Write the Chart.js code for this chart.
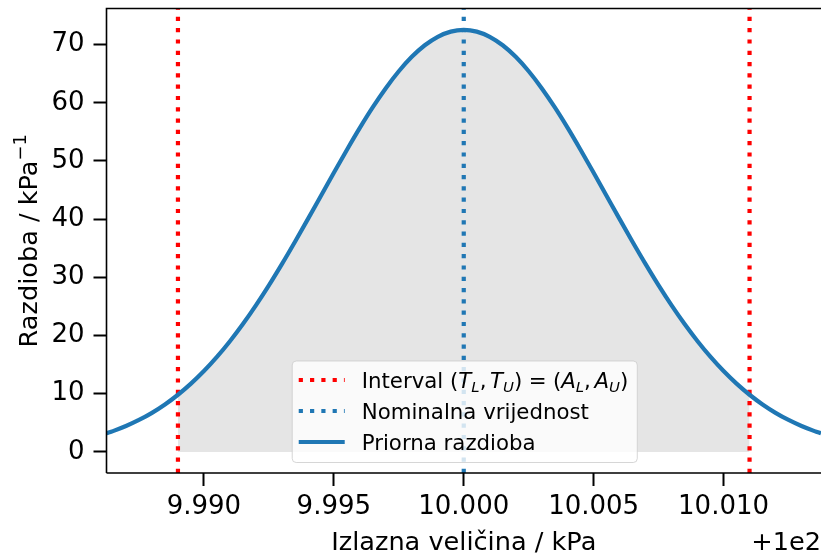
<!DOCTYPE html>
<html>
<head>
<meta charset="utf-8">
<script src="https://cdn.jsdelivr.net/npm/chart.js@4.4.1/dist/chart.umd.min.js"></script>
<style>
  html, body { margin: 0; padding: 0; background: #fff; }
  #wrap { width: 821px; height: 556px; }
</style>
</head>
<body>
<div id="wrap"><canvas id="chart" width="821" height="556"></canvas></div>
<script>
// values (x shown with the +1e2 offset removed)
const xValues = [
  9.98625, 9.9865, 9.987, 9.9875, 9.988, 9.9885, 9.989, 9.9895, 9.990, 9.9905,
  9.991, 9.9915, 9.992, 9.9925, 9.993, 9.9935, 9.994, 9.9945, 9.995, 9.9955,
  9.996, 9.9965, 9.997, 9.9975, 9.998, 9.9985, 9.999, 9.9995, 10.000, 10.0005,
  10.001, 10.0015, 10.002, 10.0025, 10.003, 10.0035, 10.004, 10.0045, 10.005, 10.0055,
  10.006, 10.0065, 10.007, 10.0075, 10.008, 10.0085, 10.009, 10.0095, 10.010, 10.0105,
  10.011, 10.0115, 10.012, 10.0125, 10.013, 10.0135, 10.01375
];
const priorValues = [
  3.19, 3.57, 4.44, 5.48, 6.71, 8.15, 9.82, 11.73, 13.89, 16.32,
  19.02, 21.97, 25.18, 28.62, 32.27, 36.08, 40.00, 43.99, 47.98, 51.89,
  55.68, 59.24, 62.50, 65.41, 67.89, 69.88, 71.34, 72.23, 72.53, 72.23,
  71.34, 69.88, 67.89, 65.41, 62.50, 59.24, 55.68, 51.89, 47.98, 43.99,
  40.00, 36.08, 32.27, 28.62, 25.18, 21.97, 19.02, 16.32, 13.89, 11.73,
  9.82, 8.15, 6.71, 5.48, 4.44, 3.57, 3.19
];
const intervalBounds = [9.989, 10.011];
const nominalValue = 10.000;
const xRange = [9.98625, 10.01375];
const yRange = [-3.63, 76.2];
const xTicks = [9.990, 9.995, 10.000, 10.005, 10.010];
const yTicks = [0, 10, 20, 30, 40, 50, 60, 70];
const xOffsetLabel = "+1e2";
const xTitle = "Izlazna veličina / kPa";
const yTitle = ["Razdioba / kPa", "−1"];
const legendLabels = ["Interval", "Nominalna vrijednost", "Priorna razdioba"];

const FONT = "'DejaVu Sans'";
const BLUE = "#1f77b4";
const RED = "#ff0000";
const DOT = [4.2, 7.1];

const curve = xValues.map((x, i) => ({ x: x, y: priorValues[i] }));
const shaded = curve.filter(p => p.x >= intervalBounds[0] - 1e-9 && p.x <= intervalBounds[1] + 1e-9);
const vline = x => [{ x: x, y: yRange[0] }, { x: x, y: yRange[1] }];

// mathtext-like pieces for "(T_L, T_U) = (A_L, A_U)"
const mathParts = [
  { t: "(" }, { t: "T", it: true }, { t: "L", it: true, sub: true }, { t: "," }, { sp: 0.17 },
  { t: "T", it: true }, { t: "U", it: true, sub: true }, { t: ")" }, { sp: 0.3 }, { t: "=" }, { sp: 0.3 },
  { t: "(" }, { t: "A", it: true }, { t: "L", it: true, sub: true }, { t: "," }, { sp: 0.17 },
  { t: "A", it: true }, { t: "U", it: true, sub: true }, { t: ")" }
];

function drawParts(ctx, parts, x, y, size, measureOnly) {
  for (const p of parts) {
    if (p.sp) { x += p.sp * size; continue; }
    const s = (p.sub || p.sup) ? size * 0.7 : size;
    ctx.font = (p.it ? "italic " : "") + s + "px " + FONT;
    const dy = p.sub ? size * 0.2 : (p.sup ? -size * 0.4 : 0);
    if (!measureOnly) ctx.fillText(p.t, x, y + dy);
    x += ctx.measureText(p.t).width;
  }
  return x;
}

const overlay = {
  id: "overlay",
  afterDatasetsDraw(chart) {
    const ctx = chart.ctx;
    const a = chart.chartArea;
    ctx.save();

    // spines
    ctx.strokeStyle = "#000";
    ctx.lineWidth = 1.6;
    ctx.beginPath();
    ctx.moveTo(a.left, a.bottom);
    ctx.lineTo(a.left, a.top);
    ctx.lineTo(a.right + 2, a.top);
    ctx.moveTo(a.left, a.bottom);
    ctx.lineTo(a.right + 2, a.bottom);
    ctx.stroke();

    // legend (lower center)
    const fs = 21.3;
    const firstW = drawParts(ctx, [{ t: legendLabels[0] + " " }].concat(mathParts), 0, 0, fs, true);
    ctx.font = fs + "px " + FONT;
    const widths = [firstW, ctx.measureText(legendLabels[1]).width, ctx.measureText(legendLabels[2]).width];
    const handle = 46, gap = 17, padL = 6.5, padR = 9;
    const w = padL + handle + gap + Math.max.apply(null, widths) + padR;
    const h = 101.5;
    const lx = (a.left + a.right) / 2 - w / 2 + 1;
    const ly = a.bottom - 10.5 - h;
    ctx.beginPath();
    ctx.roundRect(lx, ly, w, h, 4);
    ctx.fillStyle = "rgba(255,255,255,0.8)";
    ctx.fill();
    ctx.strokeStyle = "rgba(204,204,204,0.8)";
    ctx.lineWidth = 1;
    ctx.stroke();

    const rows = [ly + 19, ly + 50, ly + 81];
    const styles = [[RED, DOT], [BLUE, DOT], [BLUE, []]];
    rows.forEach((ry, i) => {
      ctx.strokeStyle = styles[i][0];
      ctx.lineWidth = 4.2;
      ctx.lineCap = "butt";
      ctx.setLineDash(styles[i][1]);
      ctx.beginPath();
      ctx.moveTo(lx + padL, ry);
      ctx.lineTo(lx + padL + handle, ry);
      ctx.stroke();
      ctx.setLineDash([]);
      ctx.fillStyle = "#000";
      ctx.textAlign = "left";
      ctx.textBaseline = "alphabetic";
      const tx = lx + padL + handle + gap;
      if (i === 0) {
        drawParts(ctx, [{ t: legendLabels[0] + " " }].concat(mathParts), tx, ry + 7.5, fs, false);
      } else {
        ctx.font = fs + "px " + FONT;
        ctx.fillText(legendLabels[i], tx, ry + 7.5);
      }
    });

    // y axis title with superscript
    const ts = 25.6;
    const yParts = [{ t: yTitle[0] }, { t: yTitle[1], sup: true }];
    const tw = drawParts(ctx, yParts, 0, 0, ts, true);
    ctx.save();
    ctx.translate(36.7, (a.top + a.bottom) / 2 + tw / 2);
    ctx.rotate(-Math.PI / 2);
    ctx.fillStyle = "#000";
    ctx.textAlign = "left";
    ctx.textBaseline = "alphabetic";
    drawParts(ctx, yParts, 0, 0, ts, false);
    ctx.restore();

    // axis offset text
    ctx.font = ts + "px " + FONT;
    ctx.fillStyle = "#000";
    ctx.textAlign = "right";
    ctx.textBaseline = "alphabetic";
    ctx.fillText(xOffsetLabel, 821, 550);
    ctx.restore();
  }
};

new Chart(document.getElementById("chart"), {
  type: "line",
  data: {
    datasets: [
      {
        label: legendLabels[2],
        data: curve,
        borderColor: BLUE,
        borderWidth: 4.2,
        cubicInterpolationMode: "monotone",
        pointRadius: 0,
        fill: false
      },
      {
        label: legendLabels[1],
        data: vline(nominalValue),
        borderColor: BLUE,
        borderWidth: 4.2,
        borderDash: DOT,
        borderCapStyle: "butt",
        pointRadius: 0,
        fill: false
      },
      {
        label: "lower",
        data: vline(intervalBounds[0]),
        borderColor: RED,
        borderWidth: 4.2,
        borderDash: DOT,
        borderCapStyle: "butt",
        pointRadius: 0,
        fill: false
      },
      {
        label: "upper",
        data: vline(intervalBounds[1]),
        borderColor: RED,
        borderWidth: 4.2,
        borderDash: DOT,
        borderCapStyle: "butt",
        pointRadius: 0,
        fill: false
      },
      {
        label: "shade",
        data: shaded,
        borderWidth: 0,
        backgroundColor: "#e5e5e5",
        cubicInterpolationMode: "monotone",
        pointRadius: 0,
        fill: "origin"
      }
    ]
  },
  options: {
    responsive: false,
    animation: false,
    devicePixelRatio: 1,
    layout: { padding: { top: 8.5, right: 0, bottom: 0, left: 0 } },
    plugins: {
      legend: { display: false },
      tooltip: { enabled: false }
    },
    scales: {
      x: {
        type: "linear",
        min: xRange[0],
        max: xRange[1],
        afterBuildTicks: s => { s.ticks = xTicks.map(v => ({ value: v })); },
        afterFit: s => { s.height = 83; s.paddingLeft = 0; s.paddingRight = 0; },
        ticks: {
          font: { family: FONT, size: 26 },
          color: "#000",
          padding: 6,
          maxRotation: 0,
          autoSkip: false,
          callback: v => v.toFixed(3)
        },
        grid: { drawOnChartArea: false, drawTicks: true, tickLength: 13, tickWidth: 2, tickColor: "#000" },
        border: { display: false },
        title: {
          display: true,
          text: xTitle,
          font: { family: FONT, size: 25.6, lineHeight: 0.95 },
          color: "#000",
          padding: { top: 0, bottom: 0 }
        }
      },
      y: {
        min: yRange[0],
        max: yRange[1],
        afterBuildTicks: s => { s.ticks = yTicks.map(v => ({ value: v })); },
        afterFit: s => { s.width = 106.5; s.paddingTop = 0; s.paddingBottom = 0; },
        ticks: {
          font: { family: FONT, size: 26 },
          color: "#000",
          padding: 9,
          callback: v => String(v)
        },
        grid: { drawOnChartArea: false, drawTicks: true, tickLength: 13, tickWidth: 2, tickColor: "#000" },
        border: { display: false },
        title: { display: false }
      }
    }
  },
  plugins: [overlay]
});
</script>
</body>
</html>
